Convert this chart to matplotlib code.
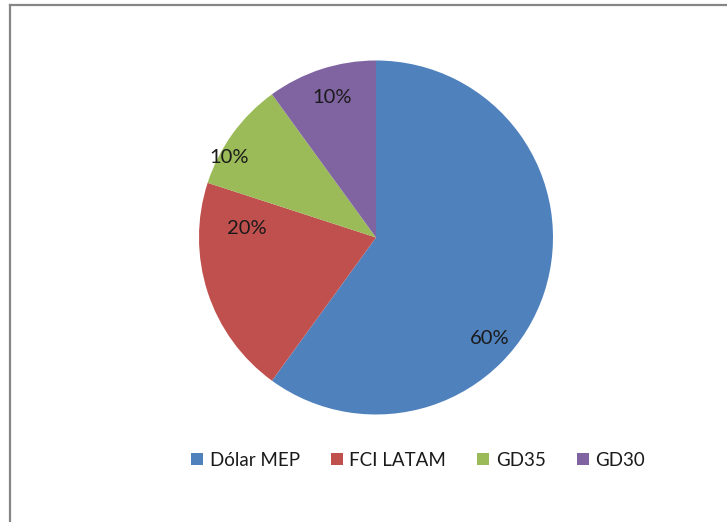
import matplotlib.pyplot as plt
from matplotlib.lines import Line2D
from matplotlib.patches import Patch

# data
labels = ['Dólar MEP', 'FCI LATAM', 'GD35', 'GD30']
shares = [60, 20, 10, 10]
colors = ['#4F81BD', '#C0504D', '#9BBB59', '#8064A2']
# where Excel put each percent label (pie radius = 1)
label_pos = [(0.64, -0.57), (-0.73, 0.05), (-0.83, 0.45), (-0.25, 0.79)]

plt.rcParams['font.family'] = ['Lato', 'DejaVu Sans']

W, H = 727, 522
fig = plt.figure(figsize=(W / 100, H / 100), dpi=100)
fig.patch.set_facecolor('white')

# pie centred at (376, 237) px, radius 177 px
cx, cy, r = 376, 237.5, 177
ax = fig.add_axes([(cx - r) / W, (H - cy - r) / H, 2 * r / W, 2 * r / H])
ax.pie(shares, colors=colors, startangle=90, counterclock=False,
       radius=1, wedgeprops=dict(linewidth=0))
ax.set_xlim(-1, 1)
ax.set_ylim(-1, 1)
ax.set_aspect('equal')
ax.axis('off')

for (x, y), v in zip(label_pos, shares):
    ax.text(x, y, f'{v}%', ha='center', va='center', fontsize=14.5, color='#1a1a1a')

# legend
handles = [Patch(facecolor=c, edgecolor='none') for c in colors]
fig.legend(handles, labels, loc='center', bbox_to_anchor=(418 / W, 1 - 460 / H),
           ncol=4, frameon=False, fontsize=13.5, handlelength=0.65, handleheight=0.65,
           handletextpad=0.35, columnspacing=1.65, labelcolor='#1a1a1a')

# chart area frame (left and top edges visible)
fig.add_artist(Line2D([10 / W, 10 / W], [0, 1 - 5 / H], color='#868686', linewidth=1.6))
fig.add_artist(Line2D([10 / W, 1], [1 - 5 / H, 1 - 5 / H], color='#868686', linewidth=1.6))

fig.savefig('out.png', dpi=100, facecolor='white')
